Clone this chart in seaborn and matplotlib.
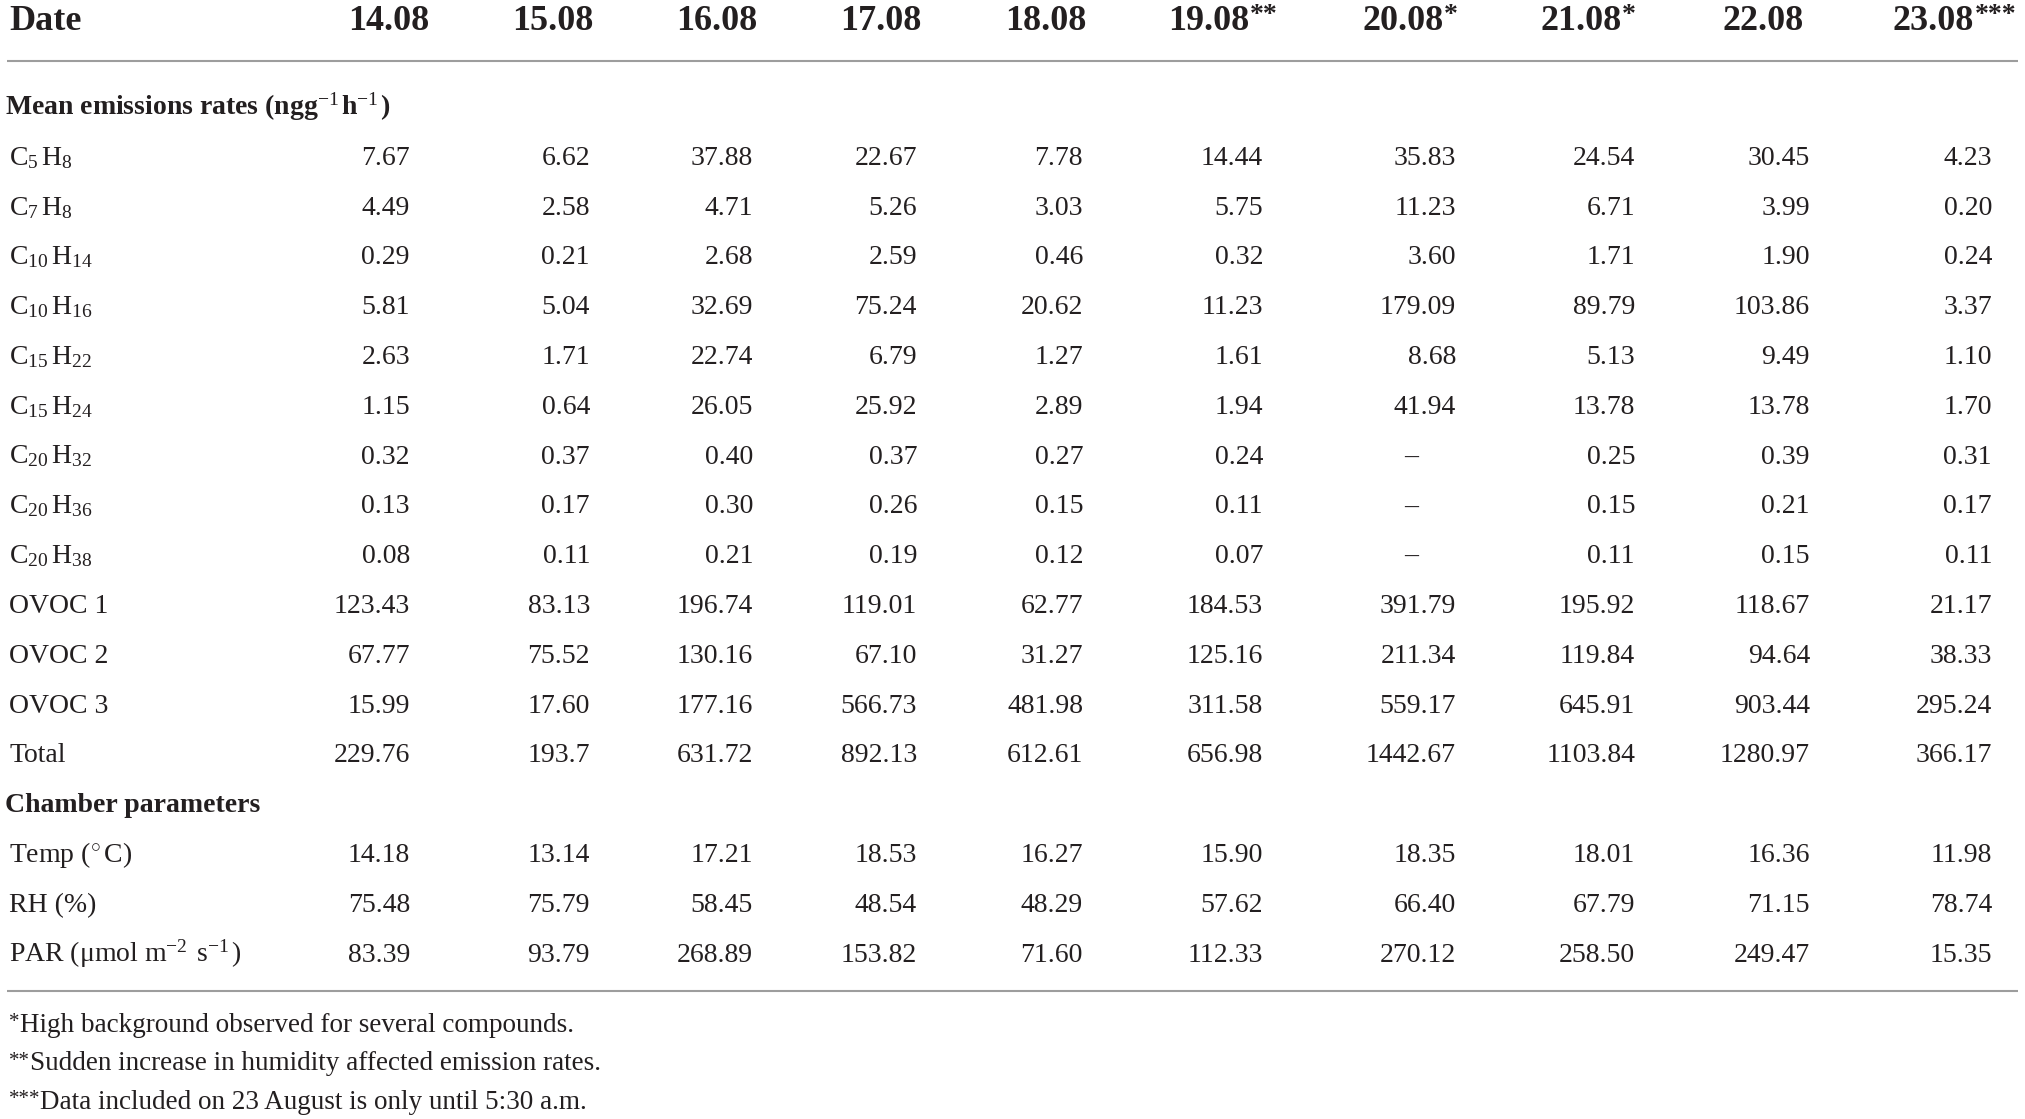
import matplotlib
matplotlib.use('Agg')  # no display
import matplotlib.pyplot as plt
import seaborn as sns
import pandas as pd

# ---- table content -------------------------------------------------------
dates = ['14.08', '15.08', '16.08', '17.08', '18.08',
         '19.08**', '20.08*', '21.08*', '22.08', '23.08***']

c5h8 = ['7.67', '6.62', '37.88', '22.67', '7.78', '14.44', '35.83', '24.54', '30.45', '4.23']
c7h8 = ['4.49', '2.58', '4.71', '5.26', '3.03', '5.75', '11.23', '6.71', '3.99', '0.20']
c10h14 = ['0.29', '0.21', '2.68', '2.59', '0.46', '0.32', '3.60', '1.71', '1.90', '0.24']
c10h16 = ['5.81', '5.04', '32.69', '75.24', '20.62', '11.23', '179.09', '89.79', '103.86', '3.37']
c15h22 = ['2.63', '1.71', '22.74', '6.79', '1.27', '1.61', '8.68', '5.13', '9.49', '1.10']
c15h24 = ['1.15', '0.64', '26.05', '25.92', '2.89', '1.94', '41.94', '13.78', '13.78', '1.70']
c20h32 = ['0.32', '0.37', '0.40', '0.37', '0.27', '0.24', None, '0.25', '0.39', '0.31']
c20h36 = ['0.13', '0.17', '0.30', '0.26', '0.15', '0.11', None, '0.15', '0.21', '0.17']
c20h38 = ['0.08', '0.11', '0.21', '0.19', '0.12', '0.07', None, '0.11', '0.15', '0.11']
ovoc1 = ['123.43', '83.13', '196.74', '119.01', '62.77', '184.53', '391.79', '195.92', '118.67', '21.17']
ovoc2 = ['67.77', '75.52', '130.16', '67.10', '31.27', '125.16', '211.34', '119.84', '94.64', '38.33']
ovoc3 = ['15.99', '17.60', '177.16', '566.73', '481.98', '311.58', '559.17', '645.91', '903.44', '295.24']
total = ['229.76', '193.7', '631.72', '892.13', '612.61', '656.98', '1442.67', '1103.84', '1280.97', '366.17']
temp = ['14.18', '13.14', '17.21', '18.53', '16.27', '15.90', '18.35', '18.01', '16.36', '11.98']
rh = ['75.48', '75.79', '58.45', '48.54', '48.29', '57.62', '66.40', '67.79', '71.15', '78.74']
par = ['83.39', '93.79', '268.89', '153.82', '71.60', '112.33', '270.12', '258.50', '249.47', '15.35']

emission_labels = [r'C$_{5}\,$H$_{8}$', r'C$_{7}\,$H$_{8}$', r'C$_{10}\,$H$_{14}$', r'C$_{10}\,$H$_{16}$',
                   r'C$_{15}\,$H$_{22}$', r'C$_{15}\,$H$_{24}$', r'C$_{20}\,$H$_{32}$', r'C$_{20}\,$H$_{36}$',
                   r'C$_{20}\,$H$_{38}$', 'OVOC 1', 'OVOC 2', 'OVOC 3', 'Total']
chamber_labels = [r'Temp ($^{\circ}\,$C)', 'RH (%)',
                  'PAR (\u03bcmol m' + r'$^{-2\,}$ s$^{-1\,}$)']

footnotes = ['*High background observed for several compounds.',
             '**Sudden increase in humidity affected emission rates.',
             '***Data included on 23 August is only until 5:30 a.m.']

emissions = pd.DataFrame([c5h8, c7h8, c10h14, c10h16, c15h22, c15h24, c20h32, c20h36,
                          c20h38, ovoc1, ovoc2, ovoc3, total],
                         index=emission_labels, columns=dates)
chamber = pd.DataFrame([temp, rh, par], index=chamber_labels, columns=dates)

# ---- styling / layout ----------------------------------------------------
sns.set_theme(style='white')
plt.rcParams['font.family'] = ['Liberation Serif', 'DejaVu Serif']
plt.rcParams['mathtext.fontset'] = 'custom'
plt.rcParams['mathtext.rm'] = 'Liberation Serif'
plt.rcParams['mathtext.it'] = 'Liberation Serif:italic'
plt.rcParams['mathtext.bf'] = 'Liberation Serif:bold'

INK = '#231f20'
RULE = '#9d9d9d'
W, H = 2025, 1119

# right edges of the number columns, left edges of the date headers (pixels)
col_right = [410, 590, 753, 917, 1083, 1263, 1456, 1635, 1810, 1992]
head_left = [348, 512, 676, 840, 1005, 1168, 1362, 1540, 1723, 1892]
row0, row_step = 115, 49.8

fig = plt.figure(figsize=(W / 100, H / 100), dpi=100)
ax = fig.add_axes([0, 0, 1, 1])
ax.set_xlim(0, W)
ax.set_ylim(H, 0)
ax.axis('off')
renderer = fig.canvas.get_renderer()


def text_width(t):
    # width of a drawn text in data (pixel) units
    return t.get_window_extent(renderer=renderer).width


def with_marks(x, y, s, size, mark_size, lift, **kw):
    # draw text with its leading/trailing asterisks smaller and raised
    base = s.strip('*')
    lead = len(s) - len(s.lstrip('*'))
    trail = len(s) - len(s.rstrip('*'))
    if lead:
        m = ax.text(x, y - lift, '*' * lead, fontsize=mark_size, color=INK, va='baseline', **kw)
        x += text_width(m)
    t = ax.text(x, y, base, fontsize=size, color=INK, va='baseline', **kw)
    if trail:
        ax.text(x + text_width(t) + 1, y - lift, '*' * trail, fontsize=mark_size,
                color=INK, va='baseline', **kw)


# header
ax.text(9, 30, 'Date', fontsize=26, fontweight='bold', color=INK, va='baseline')
for x, d in zip(head_left, dates):
    with_marks(x, 30, d, 26, 20, 8, fontweight='bold')
ax.plot([7, 2018], [61, 61], color=RULE, lw=1.5, solid_capstyle='butt')


def draw_rows(df, start):
    for i, (label, vals) in enumerate(df.iterrows()):
        y = row0 + (start + i) * row_step
        ax.text(9, y, label, fontsize=20, color=INK, va='baseline')
        for x, v in zip(col_right, vals):
            if v is None or pd.isna(v):
                ax.text(x - 45, y, '\u2013', fontsize=20, color=INK, ha='center', va='baseline')
            else:
                ax.text(x, y, v, fontsize=20, color=INK, ha='right', va='baseline')


ax.text(5, row0, r'Mean emissions rates (ngg$^{-1\,}$$\mathbf{h}^{-1\,}$)', fontsize=20,
        fontweight='bold', color=INK, va='baseline')
draw_rows(emissions, 1)
ax.text(5, row0 + 14 * row_step, 'Chamber parameters', fontsize=20,
        fontweight='bold', color=INK, va='baseline')
draw_rows(chamber, 15)

ax.plot([7, 2018], [991, 991], color=RULE, lw=1.5, solid_capstyle='butt')

for i, note in enumerate(footnotes):
    with_marks(9, 1032 + i * 38.5, note, 19.5, 15, 5)

fig.savefig('out.png', dpi=100, facecolor='white')
